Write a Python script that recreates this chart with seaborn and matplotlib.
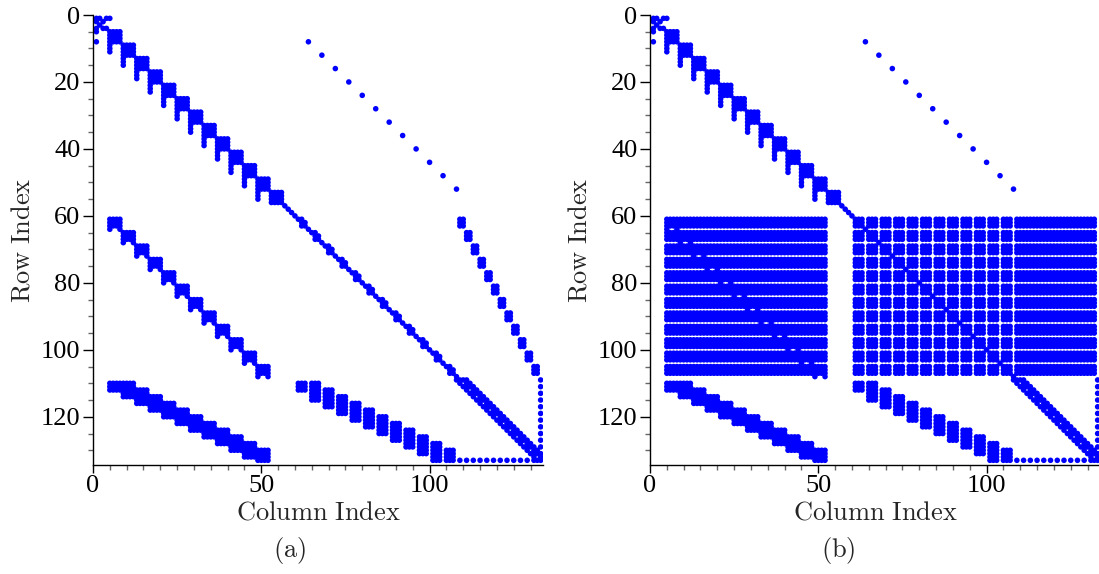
import numpy as np
import pandas as pd
import matplotlib
matplotlib.use("Agg")
import matplotlib.pyplot as plt
import seaborn as sns
from matplotlib.ticker import MultipleLocator

# ---- sparsity structure (row, col are 1-based indices) ----
corner_entries = [(1, 1), (1, 2), (1, 4), (1, 5), (2, 1), (2, 3), (3, 2),
                  (4, 1), (4, 3), (4, 4), (5, 1), (8, 1)]

# 4x4 diagonal staircase blocks, with a one-column tail under each one
stair_starts = [5, 9, 13, 17, 21, 25, 29, 33, 37, 41, 45, 49, 53]
tail_starts = [5, 9, 13, 17, 21, 25, 29, 33, 37, 41, 45, 49]

# main diagonal after the staircase
diag_single = [57, 58, 59, 60, 64, 68, 72, 76, 80, 84, 88, 92, 96, 100, 104, 108]
diag_cluster = [61, 65, 69, 73, 77, 81, 85, 89, 93, 97, 101, 105]

# isolated points in the upper right
sparse_rows = [8, 12, 16, 20, 24, 28, 32, 36, 40, 44, 48, 52]
sparse_cols = [64, 68, 72, 76, 80, 84, 88, 92, 96, 100, 104, 108]

# band of small blocks on the left, rows 61..108
midleft_rows = [61, 65, 69, 73, 77, 81, 85, 89, 93, 97, 101, 105]
midleft_cols = [5, 9, 13, 17, 21, 25, 29, 33, 37, 41, 45, 49]

# 3x2 blocks going down at the right
desc_rows = [61, 65, 69, 73, 77, 81, 85, 89, 93, 97, 101, 105]
desc_cols = [109, 111, 113, 115, 117, 119, 121, 123, 125, 127, 129, 131]

# dense band at the lower left
lowleft_rows = [110, 112, 114, 116, 118, 120, 122, 124, 126, 128, 130, 132]
lowleft_cols = [5, 9, 13, 17, 21, 25, 29, 33, 37, 41, 45, 49]

# tall narrow blocks at the bottom middle
lowmid_cols = [61, 65, 69, 73, 77, 81, 85, 89, 93, 97, 101, 105]
lowmid_top = [110, 110, 112, 114, 116, 118, 120, 122, 124, 126, 128, 130]
lowmid_bottom = [112, 115, 117, 119, 121, 123, 125, 127, 129, 131, 133, 133]

# banded tail, last row and last column
band_rows = [109, 110, 111, 112, 113, 114, 115, 116, 117, 118, 119, 120,
             121, 122, 123, 124, 125, 126, 127, 128, 129, 130, 131, 132, 133]
band_offsets = [-1, 1, 2]
edge_idx = [109, 111, 113, 115, 117, 119, 121, 123, 125, 127, 129, 131, 133]
last_index = 133

# extra fill of panel (b): 3-wide row/column groups
fill_groups = [61, 65, 69, 73, 77, 81, 85, 89, 93, 97, 101, 105]
fill_solid_cols = [(5, 52), (109, 132)]


def base_pattern():
    pts = list(corner_entries)
    for s in stair_starts:
        pts += [(r, c) for r in range(s, s + 4) for c in range(s, s + 4)]
    for s in tail_starts:
        pts += [(r, s) for r in range(s + 4, s + 7)]
    pts += [(i, i) for i in diag_single]
    for b in diag_cluster:
        pts += [(b, b), (b + 1, b + 1), (b + 2, b + 2), (b, b + 1), (b + 1, b + 2), (b + 2, b + 1)]
    pts += list(zip(sparse_rows, sparse_cols))
    for r0, c0 in zip(midleft_rows, midleft_cols):
        pts += [(r, c) for r in range(r0, r0 + 3) for c in range(c0, c0 + 4)]
        pts += [(r0 + 3, c0), (r0 + 3, c0 + 3)]
    for r0, c0 in zip(desc_rows, desc_cols):
        pts += [(r, c) for r in range(r0, r0 + 3) for c in (c0, c0 + 1)]
    for r0, c0 in zip(lowleft_rows, lowleft_cols):
        pts += [(r, c) for r in range(r0, min(r0 + 3, last_index + 1))
                for c in range(c0, min(c0 + 8, 53))]
    for c0, t, b in zip(lowmid_cols, lowmid_top, lowmid_bottom):
        pts += [(r, c) for r in range(t, b + 1) for c in range(c0, c0 + 3)]
    for i in band_rows:
        for off in band_offsets:
            if i + off <= last_index:
                pts.append((i, i + off))
        if i % 2 == 1:
            pts.append((i, i))
    pts += [(last_index, c) for c in edge_idx]
    pts += [(r, last_index) for r in edge_idx]
    return pts


def filled_pattern():
    pts = base_pattern()
    rows = [g + k for g in fill_groups for k in range(3)]
    cols = [g + k for g in fill_groups for k in range(3)]
    for lo, hi in fill_solid_cols:
        cols += list(range(lo, hi + 1))
    pts += [(r, c) for r in rows for c in cols]
    return pts


def to_frame(pts):
    df = pd.DataFrame(sorted(set(pts)), columns=["row", "col"])
    return df


sns.set_theme(style="ticks")
plt.rcParams["mathtext.fontset"] = "cm"
plt.rcParams["font.family"] = ["Liberation Serif", "DejaVu Serif"]

W, H = 1099, 574
fig = plt.figure(figsize=(W / 100, H / 100), dpi=100)

panels = [(93, base_pattern(), "(a)", 290), (650, filled_pattern(), "(b)", 838)]
for left_px, pts, tag, tag_x in panels:
    ax = fig.add_axes([left_px / W, (H - 465) / H, 450 / W, 450 / H])
    df = to_frame(pts)
    sns.scatterplot(data=df, x="col", y="row", ax=ax, s=16, color="#0000ff",
                    edgecolor="none", linewidth=0, legend=False)
    ax.set_xlim(0, 133.7)
    ax.set_ylim(134.4, 0)
    ax.set_xlabel("")
    ax.set_ylabel("")
    for side in ("top", "right"):
        ax.spines[side].set_visible(False)
    for side in ("left", "bottom"):
        ax.spines[side].set_linewidth(1.0)
        ax.spines[side].set_color("black")
    ax.xaxis.set_major_locator(MultipleLocator(50))
    ax.xaxis.set_minor_locator(MultipleLocator(5))
    ax.yaxis.set_major_locator(MultipleLocator(20))
    ax.yaxis.set_minor_locator(MultipleLocator(5))
    ax.tick_params(axis="x", which="major", direction="out", length=6, width=1,
                   pad=1, labelsize=19, colors="black")
    ax.tick_params(axis="y", which="major", direction="out", length=7, width=1,
                   pad=2, labelsize=19, colors="black")
    ax.tick_params(which="minor", direction="out", length=3.6, width=1, color="0.4")

    cx = (left_px + 225) / W
    fig.text(cx, 1 - 513 / H, r"$\mathrm{Column\ Index}$", ha="center", va="center", fontsize=19)
    fig.text((left_px - 70) / W, 1 - 240 / H, r"$\mathrm{Row\ Index}$", ha="center", va="center",
             rotation=90, fontsize=19)
    fig.text(tag_x / W, 1 - 551 / H, r"$\mathrm{" + tag + "}$", ha="center", va="center", fontsize=19)

fig.savefig("out.png", dpi=100)
